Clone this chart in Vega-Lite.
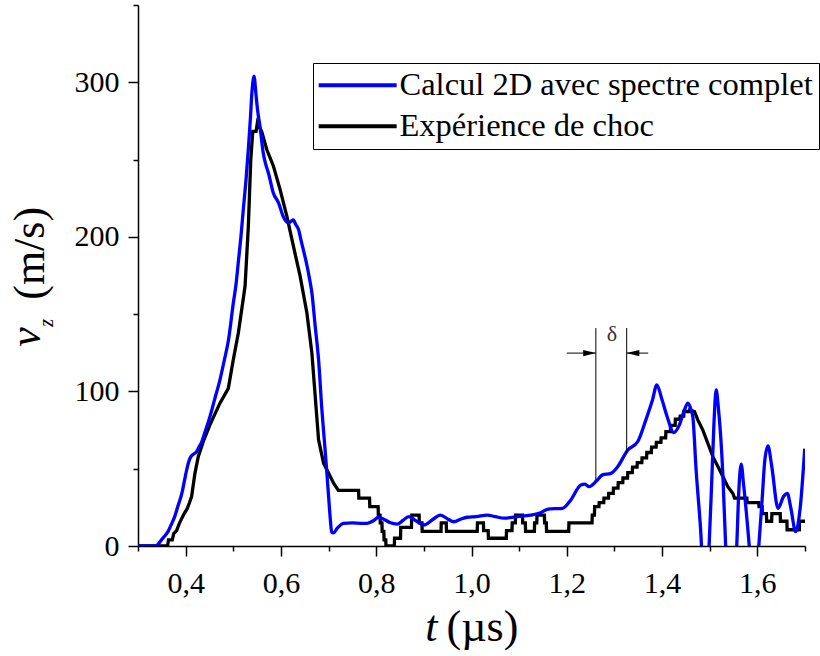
{
  "$schema": "https://vega.github.io/schema/vega-lite/v6.json",
  "width": 667,
  "height": 541,
  "autosize": {"type": "none"},
  "padding": {"left": 138, "top": 5, "right": 15, "bottom": 110},
  "background": "white",
  "config": {
    "view": {"stroke": null},
    "font": "Liberation Serif, Times New Roman, Tinos, DejaVu Serif, serif",
    "axis": {
      "grid": false,
      "labelFont": "Liberation Serif, Times New Roman, Tinos, DejaVu Serif, serif",
      "labelFontSize": 30,
      "labelColor": "#000",
      "domainColor": "#000",
      "domainWidth": 1.5,
      "tickColor": "#000",
      "tickWidth": 1.5,
      "labelOverlap": false,
      "labelFlush": false
    }
  },
  "datasets": {
    "calc": [
      {"t":0.30,"v":0},{"t":0.335,"v":0},{"t":0.342,"v":1},{"t":0.349,"v":3.9},{"t":0.356,"v":6.5},{"t":0.363,"v":9.3},{"t":0.370,"v":14},{"t":0.377,"v":19},{"t":0.384,"v":26},{"t":0.392,"v":34},{"t":0.397,"v":41.5},{"t":0.402,"v":49},{"t":0.406,"v":54},{"t":0.411,"v":57.8},{"t":0.417,"v":59.5},{"t":0.423,"v":61},{"t":0.428,"v":64},{"t":0.434,"v":67.6},{"t":0.442,"v":75},{"t":0.451,"v":83.7},{"t":0.461,"v":95},{"t":0.472,"v":107.5},{"t":0.481,"v":120},{"t":0.490,"v":133.4},{"t":0.500,"v":157},{"t":0.506,"v":170},{"t":0.511,"v":185},{"t":0.516,"v":200},{"t":0.521,"v":217.6},{"t":0.527,"v":238},{"t":0.532,"v":258.6},{"t":0.536,"v":277},{"t":0.539,"v":293},{"t":0.542,"v":302},{"t":0.544,"v":304},{"t":0.546,"v":298},{"t":0.548,"v":291},{"t":0.551,"v":282},{"t":0.556,"v":271.6},{"t":0.563,"v":254},{"t":0.568,"v":247},{"t":0.574,"v":241},{"t":0.584,"v":228.4},{"t":0.595,"v":222},{"t":0.605,"v":213},{"t":0.611,"v":210},{"t":0.616,"v":209},{"t":0.621,"v":210},{"t":0.626,"v":211},{"t":0.631,"v":208},{"t":0.637,"v":204.7},{"t":0.642,"v":198},{"t":0.647,"v":191.7},{"t":0.655,"v":181},{"t":0.660,"v":173},{"t":0.665,"v":163.7},{"t":0.672,"v":142},{"t":0.679,"v":120.5},{"t":0.686,"v":88},{"t":0.692,"v":65},{"t":0.697,"v":45},{"t":0.701,"v":28},{"t":0.704,"v":16},{"t":0.7065,"v":9},{"t":0.710,"v":8.5},{"t":0.718,"v":11.4},{"t":0.725,"v":13.6},{"t":0.731,"v":14.7},{"t":0.750,"v":14.9},{"t":0.767,"v":14.7},{"t":0.781,"v":14.7},{"t":0.795,"v":16.5},{"t":0.805,"v":18.6},{"t":0.815,"v":17.5},{"t":0.830,"v":15},{"t":0.844,"v":14.2},{"t":0.856,"v":16.5},{"t":0.868,"v":19},{"t":0.885,"v":16},{"t":0.900,"v":13.6},{"t":0.918,"v":17},{"t":0.935,"v":20},{"t":0.950,"v":17.5},{"t":0.963,"v":15.7},{"t":0.978,"v":17.5},{"t":0.991,"v":18.6},{"t":1.010,"v":19},{"t":1.033,"v":20},{"t":1.050,"v":19},{"t":1.068,"v":18},{"t":1.095,"v":19},{"t":1.124,"v":20},{"t":1.145,"v":21.5},{"t":1.159,"v":23.7},{"t":1.166,"v":24},{"t":1.180,"v":24.2},{"t":1.191,"v":24.4},{"t":1.2085,"v":29.8},{"t":1.2295,"v":39.5},{"t":1.238,"v":40},{"t":1.247,"v":38.4},{"t":1.262,"v":42},{"t":1.275,"v":46},{"t":1.2926,"v":47},{"t":1.307,"v":51.4},{"t":1.3277,"v":62},{"t":1.349,"v":67.6},{"t":1.366,"v":81.6},{"t":1.380,"v":94.6},{"t":1.389,"v":104.3},{"t":1.399,"v":95.6},{"t":1.4105,"v":83.8},{"t":1.4245,"v":73.4},{"t":1.4364,"v":78.4},{"t":1.447,"v":88},{"t":1.454,"v":92.4},{"t":1.460,"v":89},{"t":1.4645,"v":83.8},{"t":1.4715,"v":49},{"t":1.4805,"v":12.5},{"t":1.491,"v":-40},{"t":1.498,"v":-5},{"t":1.504,"v":40},{"t":1.509,"v":80},{"t":1.5135,"v":101},{"t":1.518,"v":90},{"t":1.5276,"v":46},{"t":1.5335,"v":0},{"t":1.545,"v":-40},{"t":1.5567,"v":0},{"t":1.561,"v":35},{"t":1.566,"v":53},{"t":1.571,"v":40},{"t":1.583,"v":0},{"t":1.593,"v":-40},{"t":1.603,"v":0},{"t":1.610,"v":30},{"t":1.6155,"v":55},{"t":1.6223,"v":64.8},{"t":1.630,"v":52},{"t":1.6434,"v":24.4},{"t":1.655,"v":32},{"t":1.663,"v":34},{"t":1.670,"v":25},{"t":1.6805,"v":9.3},{"t":1.690,"v":25},{"t":1.6994,"v":63}
    ],
    "exp": [
      {"t":0.30,"v":0},{"t":0.362,"v":0},{"t":0.364,"v":4},{"t":0.372,"v":4},{"t":0.375,"v":8},{"t":0.381,"v":10},{"t":0.386,"v":14},{"t":0.392,"v":18},{"t":0.397,"v":21},{"t":0.403,"v":24},{"t":0.408,"v":28},{"t":0.4125,"v":32},{"t":0.4195,"v":47},{"t":0.4265,"v":57.8},{"t":0.437,"v":67.6},{"t":0.451,"v":78.4},{"t":0.472,"v":92.4},{"t":0.4896,"v":102},{"t":0.500,"v":120.5},{"t":0.5106,"v":137.8},{"t":0.5247,"v":168},{"t":0.5316,"v":206.8},{"t":0.5367,"v":250},{"t":0.5409,"v":268.3},{"t":0.5479,"v":268.3},{"t":0.5506,"v":273.8},{"t":0.5598,"v":268},{"t":0.5703,"v":256.5},{"t":0.5843,"v":245.7},{"t":0.5983,"v":230.6},{"t":0.6125,"v":213.3},{"t":0.6263,"v":193.8},{"t":0.6404,"v":174.4},{"t":0.6545,"v":150.7},{"t":0.665,"v":124.8},{"t":0.672,"v":96.7},{"t":0.679,"v":68.7},{"t":0.6895,"v":53.6},{"t":0.702,"v":46},{"t":0.7105,"v":40.6},{"t":0.7205,"v":36},
      {"t":0.763,"v":36},{"t":0.7635,"v":31},{"t":0.786,"v":31},{"t":0.7865,"v":25.5},{"t":0.804,"v":25.5},{"t":0.8045,"v":20},{"t":0.808,"v":20},{"t":0.8085,"v":15},{"t":0.812,"v":15},{"t":0.8125,"v":9.5},{"t":0.816,"v":9.5},{"t":0.8165,"v":4},{"t":0.820,"v":4},{"t":0.8205,"v":0},{"t":0.838,"v":0},{"t":0.8385,"v":5},{"t":0.851,"v":5},{"t":0.8515,"v":12},{"t":0.874,"v":12},{"t":0.8745,"v":20},{"t":0.890,"v":20},{"t":0.8905,"v":15},{"t":0.896,"v":15},{"t":0.8965,"v":9.5},{"t":0.936,"v":9.5},{"t":0.9365,"v":15},{"t":0.947,"v":15},{"t":0.9475,"v":9.5},{"t":1.012,"v":9.5},{"t":1.0125,"v":15},{"t":1.025,"v":15},{"t":1.0255,"v":10},{"t":1.035,"v":10},{"t":1.0355,"v":5},{"t":1.073,"v":5},{"t":1.0735,"v":10},{"t":1.085,"v":10},{"t":1.0855,"v":15},{"t":1.092,"v":15},{"t":1.0925,"v":20},{"t":1.107,"v":20},{"t":1.1075,"v":15},{"t":1.113,"v":15},{"t":1.1135,"v":9.5},{"t":1.132,"v":9.5},{"t":1.1325,"v":15},{"t":1.137,"v":15},{"t":1.1375,"v":20},{"t":1.153,"v":20},{"t":1.1535,"v":15},{"t":1.157,"v":15},{"t":1.1575,"v":9.5},{"t":1.204,"v":9.5},{"t":1.2045,"v":15},{"t":1.253,"v":15},{"t":1.2535,"v":20},{"t":1.258,"v":20},{"t":1.2585,"v":25.5},
      {"t":1.2675,"v":25.5},{"t":1.268,"v":28},{"t":1.2775,"v":28},{"t":1.278,"v":31},{"t":1.2875,"v":31},{"t":1.288,"v":34},{"t":1.2975,"v":34},{"t":1.298,"v":37.5},{"t":1.3075,"v":37.5},{"t":1.308,"v":41},{"t":1.3175,"v":41},{"t":1.318,"v":44},{"t":1.3275,"v":44},{"t":1.328,"v":47.5},{"t":1.3375,"v":47.5},{"t":1.338,"v":51},{"t":1.3475,"v":51},{"t":1.348,"v":54},{"t":1.3575,"v":54},{"t":1.358,"v":57},{"t":1.3675,"v":57},{"t":1.368,"v":60.5},{"t":1.3775,"v":60.5},{"t":1.378,"v":64},{"t":1.3875,"v":64},{"t":1.388,"v":67},{"t":1.3975,"v":67},{"t":1.398,"v":70},{"t":1.4075,"v":70},{"t":1.408,"v":74},{"t":1.4175,"v":74},{"t":1.418,"v":78},{"t":1.4275,"v":78},{"t":1.428,"v":82},{"t":1.4375,"v":82},{"t":1.438,"v":84},{"t":1.4455,"v":84},{"t":1.446,"v":87},{"t":1.4575,"v":87},{"t":1.458,"v":88},
      {"t":1.468,"v":87},{"t":1.475,"v":81.6},{"t":1.4856,"v":75},{"t":1.496,"v":66.5},{"t":1.5066,"v":57.8},{"t":1.5172,"v":51.4},{"t":1.5276,"v":45},{"t":1.538,"v":38.4},{"t":1.5487,"v":34},{"t":1.552,"v":31},{"t":1.578,"v":31},{"t":1.5785,"v":28},{"t":1.603,"v":28},{"t":1.6035,"v":25.5},{"t":1.610,"v":25.5},{"t":1.6105,"v":21},{"t":1.619,"v":21},{"t":1.6195,"v":16},{"t":1.630,"v":16},{"t":1.6305,"v":21},{"t":1.648,"v":21},{"t":1.6485,"v":16},{"t":1.662,"v":16},{"t":1.6625,"v":10.5},{"t":1.688,"v":10.5},{"t":1.6885,"v":16},{"t":1.700,"v":16}
    ]
  },
  "layer": [
    {
      "data": {"name": "exp"},
      "mark": {"type": "line", "strokeWidth": 3.3, "clip": true},
      "encoding": {
        "x": {
          "field": "t", "type": "quantitative",
          "scale": {"domain": [0.3, 1.7], "nice": false, "zero": false},
          "axis": {
            "title": null,
            "values": [0.3,0.4,0.5,0.6,0.7,0.8,0.9,1.0,1.1,1.2,1.3,1.4,1.5,1.6,1.7],
            "labelExpr": "round(datum.value*10) % 2 == 0 ? replace(format(datum.value, '.1f'), '.', ',') : ''",
            "tickSize": {"condition": {"test": "round(datum.value*10) % 2 == 1", "value": 5}, "value": 10},
            "labelPadding": 12
          }
        },
        "y": {
          "field": "v", "type": "quantitative",
          "scale": {"domain": [0, 350], "nice": false},
          "axis": {
            "title": null,
            "values": [0,50,100,150,200,250,300,350],
            "labelExpr": "datum.value % 100 == 0 ? datum.label : ''",
            "tickSize": {"condition": {"test": "datum.value % 100 != 0", "value": 5}, "value": 10},
            "labelPadding": 9
          }
        },
        "color": {
          "datum": "Expérience de choc",
          "scale": {"domain": ["Calcul 2D avec spectre complet", "Expérience de choc"], "range": ["#0000ff", "#000000"]},
          "legend": {
            "title": null, "orient": "none", "legendX": 175, "legendY": 58,
            "symbolType": "M-1.7,0H6.3", "symbolSize": 380, "symbolStrokeWidth": 4, "symbolFillColor": "transparent",
            "labelFont": "Liberation Serif, Times New Roman, Tinos, DejaVu Serif, serif", "labelFontSize": 32.5, "labelColor": "#000",
            "labelOffset": 48, "labelLimit": 0,
            "strokeColor": "#000", "fillColor": "#fff", "padding": 6, "rowPadding": 8
          }
        }
      }
    },
    {
      "data": {"name": "calc"},
      "mark": {"type": "line", "interpolate": "monotone", "strokeWidth": 3.3, "clip": true},
      "encoding": {
        "x": {"field": "t", "type": "quantitative", "title": null},
        "y": {"field": "v", "type": "quantitative", "title": null},
        "color": {"datum": "Calcul 2D avec spectre complet"}
      }
    },
    {
      "data": {"values": [{"t": 1.261, "v": 42.7, "v2": 141}, {"t": 1.3257, "v": 60, "v2": 141}]},
      "mark": {"type": "rule", "color": "#000", "strokeWidth": 1},
      "encoding": {
        "x": {"field": "t", "type": "quantitative", "title": null},
        "y": {"field": "v", "type": "quantitative", "title": null},
        "y2": {"field": "v2"}
      }
    },
    {
      "data": {"values": [{"t": 1.2, "t2": 1.261, "v": 124.8}, {"t": 1.3257, "t2": 1.371, "v": 124.8}]},
      "mark": {"type": "rule", "color": "#000", "strokeWidth": 1},
      "encoding": {
        "x": {"field": "t", "type": "quantitative", "title": null},
        "x2": {"field": "t2"},
        "y": {"field": "v", "type": "quantitative", "title": null}
      }
    },
    {
      "data": {"values": [{"t": 1.261, "v": 124.8}]},
      "mark": {"type": "point", "shape": "M0,0L-2,-0.5L-2,0.5Z", "filled": true, "size": 160, "color": "#000", "opacity": 1},
      "encoding": {
        "x": {"field": "t", "type": "quantitative", "title": null},
        "y": {"field": "v", "type": "quantitative", "title": null}
      }
    },
    {
      "data": {"values": [{"t": 1.3257, "v": 124.8}]},
      "mark": {"type": "point", "shape": "M0,0L2,-0.5L2,0.5Z", "filled": true, "size": 160, "color": "#000", "opacity": 1},
      "encoding": {
        "x": {"field": "t", "type": "quantitative", "title": null},
        "y": {"field": "v", "type": "quantitative", "title": null}
      }
    },
    {
      "data": {"values": [{"label": "δ", "t": 1.2948, "v": 137.3}]},
      "mark": {"type": "text", "font": "Liberation Serif, Times New Roman, Tinos, DejaVu Serif, serif", "fontSize": 22, "color": "#333", "align": "center", "baseline": "middle"},
      "encoding": {
        "x": {"field": "t", "type": "quantitative", "title": null},
        "y": {"field": "v", "type": "quantitative", "title": null},
        "text": {"field": "label"}
      }
    },
    {
      "data": {"values": [{}]},
      "mark": {"type": "text", "text": "t", "font": "Liberation Serif, Times New Roman, Tinos, DejaVu Serif, serif", "fontStyle": "italic", "fontSize": 44, "color": "#000", "align": "right", "baseline": "alphabetic"},
      "encoding": {
        "x": {"datum": 0.9287, "type": "quantitative"},
        "y": {"datum": -61.5, "type": "quantitative"}
      }
    },
    {
      "data": {"values": [{}]},
      "mark": {"type": "text", "text": "(µs)", "font": "Liberation Serif, Times New Roman, Tinos, DejaVu Serif, serif", "fontSize": 44, "color": "#000", "align": "left", "baseline": "alphabetic"},
      "encoding": {
        "x": {"datum": 0.9476, "type": "quantitative"},
        "y": {"datum": -61.5, "type": "quantitative"}
      }
    },
    {
      "data": {"values": [{}]},
      "mark": {"type": "text", "text": "v", "font": "Liberation Serif, Times New Roman, Tinos, DejaVu Serif, serif", "fontStyle": "italic", "fontSize": 44, "color": "#000", "align": "left", "baseline": "alphabetic", "angle": 270},
      "encoding": {
        "x": {"datum": 0.0934, "type": "quantitative"},
        "y": {"datum": 128.9, "type": "quantitative"}
      }
    },
    {
      "data": {"values": [{}]},
      "mark": {"type": "text", "text": "z", "font": "Liberation Serif, Times New Roman, Tinos, DejaVu Serif, serif", "fontStyle": "italic", "fontSize": 20, "color": "#000", "align": "left", "baseline": "alphabetic", "angle": 270},
      "encoding": {
        "x": {"datum": 0.1214, "type": "quantitative"},
        "y": {"datum": 141.8, "type": "quantitative"}
      }
    },
    {
      "data": {"values": [{}]},
      "mark": {"type": "text", "text": "(m/s)", "font": "Liberation Serif, Times New Roman, Tinos, DejaVu Serif, serif", "fontSize": 44, "color": "#000", "align": "left", "baseline": "alphabetic", "angle": 270},
      "encoding": {
        "x": {"datum": 0.1036, "type": "quantitative"},
        "y": {"datum": 159.3, "type": "quantitative"}
      }
    }
  ]
}
